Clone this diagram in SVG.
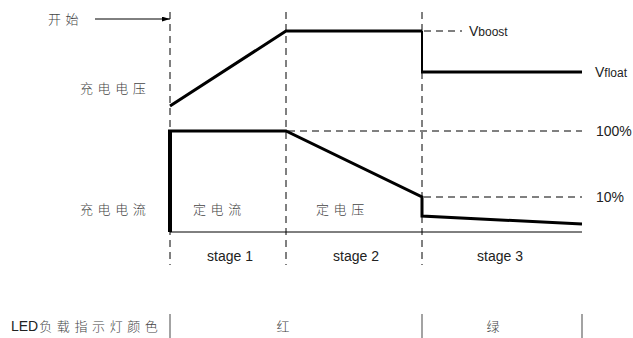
<svg xmlns="http://www.w3.org/2000/svg" width="633" height="338" viewBox="0 0 633 338">
<style>
.cn{font-family:"Noto Sans CJK SC","Liberation Sans",sans-serif;font-size:13px;font-weight:300;fill:#444;letter-spacing:4.6px}
.en{font-family:"Liberation Sans",Arial,sans-serif;font-size:14px;fill:#222}
.sub{font-size:12px}
.dash{stroke:#000;stroke-width:1;stroke-dasharray:7 5;fill:none}
.thick{stroke:#000;stroke-width:3;fill:none;stroke-linejoin:miter}
.thin{stroke:#000;stroke-width:1;fill:none}
.sep{stroke:#666;stroke-width:1.2}
</style>
<defs>
<marker id="arr" viewBox="0 0 10 6" refX="10" refY="3" markerWidth="8" markerHeight="5" markerUnits="userSpaceOnUse" orient="auto">
<path d="M0,0 L10,3 L0,6 Z" fill="#000"/>
</marker>
</defs>
<rect width="633" height="338" fill="#fff"/>
<g id="connectors">
<line class="dash" x1="170" y1="12" x2="170" y2="265"/>
<line class="dash" x1="286" y1="12" x2="286" y2="265"/>
<line class="dash" x1="422" y1="12" x2="422" y2="265"/>
<line class="thin" x1="95" y1="19" x2="170" y2="19" marker-end="url(#arr)"/>
<line class="dash" x1="424" y1="31" x2="462" y2="31"/>
<line class="dash" x1="288" y1="131" x2="582" y2="131"/>
<line class="dash" x1="424" y1="197" x2="582" y2="197"/>
</g>
<g id="voltage-curve">
<polyline class="thick" points="170,106 286,31 422,31"/>
<line stroke="#000" stroke-width="2" x1="422" y1="31" x2="422" y2="72"/>
<line class="thick" x1="421" y1="72" x2="582" y2="72"/>
</g>
<g id="current-curve">
<line stroke="#000" stroke-width="4" x1="170" y1="130" x2="170" y2="232"/>
<polyline class="thick" points="168,131 286,131 422,197 422,216 582,224"/>
<line class="thin" x1="170" y1="232" x2="582" y2="232"/>
</g>
<g id="labels">
<text class="cn" x="48" y="24">开始</text>
<text class="cn" x="80" y="93">充电电压</text>
<text class="cn" x="80" y="214">充电电流</text>
<text class="cn" x="193" y="214">定电流</text>
<text class="cn" x="316" y="214">定电压</text>
<text class="en" x="469" y="36">V<tspan class="sub">boost</tspan></text>
<text class="en" x="595" y="77">V<tspan class="sub">float</tspan></text>
<text class="en" x="596" y="136">100%</text>
<text class="en" x="596" y="202">10%</text>
<text class="en" x="230" y="261" text-anchor="middle">stage 1</text>
<text class="en" x="356" y="261" text-anchor="middle">stage 2</text>
<text class="en" x="500" y="261" text-anchor="middle">stage 3</text>
</g>
<g id="led-row">
<text x="11" y="331"><tspan class="en">LED</tspan><tspan class="cn" dx="1">负载指示灯颜色</tspan></text>
<line class="sep" x1="170" y1="314" x2="170" y2="338"/>
<line class="sep" x1="422" y1="314" x2="422" y2="338"/>
<line class="sep" x1="582" y1="314" x2="582" y2="338"/>
<text class="cn" x="283" y="331" text-anchor="middle" style="letter-spacing:0">红</text>
<text class="cn" x="493" y="331" text-anchor="middle" style="letter-spacing:0">绿</text>
</g>
</svg>
